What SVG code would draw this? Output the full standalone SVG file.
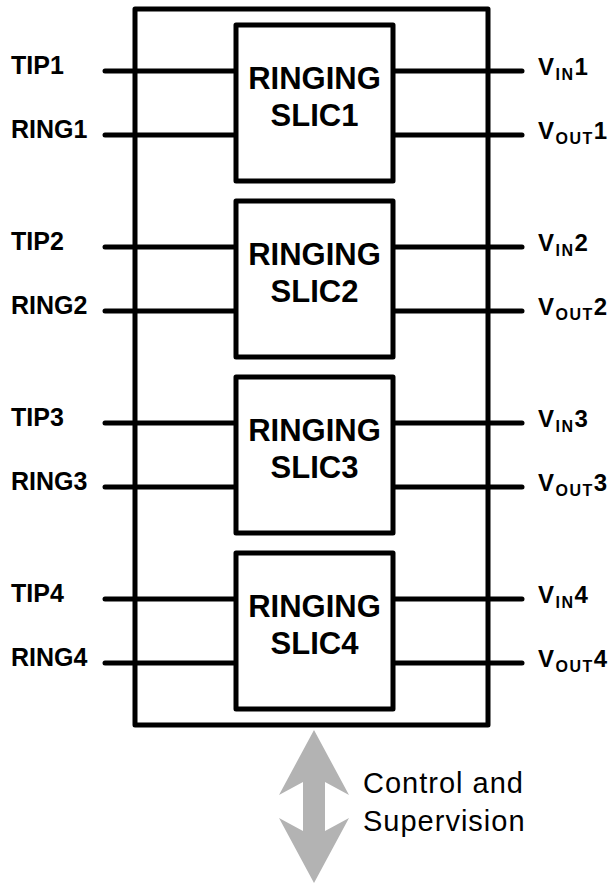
<svg xmlns="http://www.w3.org/2000/svg" width="611" height="883" viewBox="0 0 611 883">
<style>
.box{fill:#fff;stroke:#000;stroke-width:5;stroke-linejoin:round}
.ln{stroke:#000;stroke-width:5;stroke-linecap:round;fill:none}
.lbl{font-family:"Liberation Sans",Arial,sans-serif;font-weight:bold;font-size:25px;fill:#000}
.big{font-family:"Liberation Sans",Arial,sans-serif;font-weight:bold;font-size:31px;fill:#000;text-anchor:middle}
.v{font-family:"Liberation Sans",Arial,sans-serif;font-weight:bold;font-size:24px;letter-spacing:1.5px;fill:#000}
.sub{font-size:16px}
.ctl{font-family:"Liberation Sans",Arial,sans-serif;font-size:29px;letter-spacing:1px;fill:#000}
</style>
<rect id="outer" class="box" x="135" y="9" width="353" height="716" style="fill:none"/>
<g id="connectors">
<line class="ln" x1="105" y1="71" x2="236" y2="71"/>
<line class="ln" x1="105" y1="135" x2="236" y2="135"/>
<line class="ln" x1="393" y1="71" x2="522" y2="71"/>
<line class="ln" x1="393" y1="135" x2="522" y2="135"/>
<line class="ln" x1="105" y1="247" x2="236" y2="247"/>
<line class="ln" x1="105" y1="311" x2="236" y2="311"/>
<line class="ln" x1="393" y1="247" x2="522" y2="247"/>
<line class="ln" x1="393" y1="311" x2="522" y2="311"/>
<line class="ln" x1="105" y1="423" x2="236" y2="423"/>
<line class="ln" x1="105" y1="487" x2="236" y2="487"/>
<line class="ln" x1="393" y1="423" x2="522" y2="423"/>
<line class="ln" x1="393" y1="487" x2="522" y2="487"/>
<line class="ln" x1="105" y1="599" x2="236" y2="599"/>
<line class="ln" x1="105" y1="663" x2="236" y2="663"/>
<line class="ln" x1="393" y1="599" x2="522" y2="599"/>
<line class="ln" x1="393" y1="663" x2="522" y2="663"/>
</g>
<g id="slic1">
<rect class="box" x="236" y="25" width="157" height="156"/>
<text class="big" x="314.5" y="89">RINGING</text>
<text class="big" x="314.5" y="126">SLIC1</text>
</g>
<g id="slic2">
<rect class="box" x="236" y="201" width="157" height="156"/>
<text class="big" x="314.5" y="265">RINGING</text>
<text class="big" x="314.5" y="302">SLIC2</text>
</g>
<g id="slic3">
<rect class="box" x="236" y="377" width="157" height="156"/>
<text class="big" x="314.5" y="441">RINGING</text>
<text class="big" x="314.5" y="478">SLIC3</text>
</g>
<g id="slic4">
<rect class="box" x="236" y="553" width="157" height="156"/>
<text class="big" x="314.5" y="617">RINGING</text>
<text class="big" x="314.5" y="654">SLIC4</text>
</g>
<g id="left-labels">
<text class="lbl" x="11" y="74">TIP1</text>
<text class="lbl" x="11" y="138">RING1</text>
<text class="lbl" x="11" y="250">TIP2</text>
<text class="lbl" x="11" y="314">RING2</text>
<text class="lbl" x="11" y="426">TIP3</text>
<text class="lbl" x="11" y="490">RING3</text>
<text class="lbl" x="11" y="602">TIP4</text>
<text class="lbl" x="11" y="666">RING4</text>
</g>
<g id="right-labels">
<text class="v" x="538" y="75">V<tspan class="sub" dy="5">IN</tspan><tspan dy="-5">1</tspan></text>
<text class="v" x="538" y="139">V<tspan class="sub" dy="5">OUT</tspan><tspan dy="-5">1</tspan></text>
<text class="v" x="538" y="251">V<tspan class="sub" dy="5">IN</tspan><tspan dy="-5">2</tspan></text>
<text class="v" x="538" y="315">V<tspan class="sub" dy="5">OUT</tspan><tspan dy="-5">2</tspan></text>
<text class="v" x="538" y="427">V<tspan class="sub" dy="5">IN</tspan><tspan dy="-5">3</tspan></text>
<text class="v" x="538" y="491">V<tspan class="sub" dy="5">OUT</tspan><tspan dy="-5">3</tspan></text>
<text class="v" x="538" y="603">V<tspan class="sub" dy="5">IN</tspan><tspan dy="-5">4</tspan></text>
<text class="v" x="538" y="667">V<tspan class="sub" dy="5">OUT</tspan><tspan dy="-5">4</tspan></text>
</g>
<g id="control">
<polygon points="314,730 349,795 325,782 325,831 349,818 314,883 279,818 303,831 303,782 279,795" fill="#b3b3b3"/>
<text class="ctl" x="363" y="793">Control and</text>
<text class="ctl" x="363" y="831">Supervision</text>
</g>
</svg>
